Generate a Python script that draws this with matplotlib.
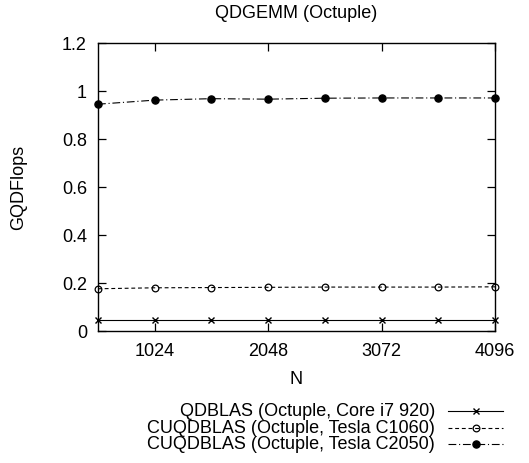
#!/usr/bin/env python
# QDGEMM octuple precision performance, gnuplot-like style

import matplotlib
matplotlib.use("Agg")
import matplotlib.pyplot as plt
from matplotlib.lines import Line2D

plt.rcParams['font.family'] = ['Liberation Sans', 'DejaVu Sans']

# data
n_sizes = [512, 1024, 1536, 2048, 2560, 3072, 3584, 4096]
core_i7 = [0.045, 0.045, 0.045, 0.045, 0.045, 0.045, 0.045, 0.045]
tesla_c1060 = [0.176, 0.180, 0.181, 0.182, 0.183, 0.183, 0.183, 0.184]
tesla_c2050 = [0.945, 0.962, 0.968, 0.966, 0.970, 0.971, 0.971, 0.971]
labels = ["QDBLAS (Octuple, Core i7 920)",
          "CUQDBLAS (Octuple, Tesla C1060)",
          "CUQDBLAS (Octuple, Tesla C2050)"]
xticks = [1024, 2048, 3072, 4096]
yticks = [0, 0.2, 0.4, 0.6, 0.8, 1.0, 1.2]
ytick_labels = ["0", "0.2", "0.4", "0.6", "0.8", "1", "1.2"]

W, H = 529, 464
FS = 13
fig = plt.figure(figsize=(W / 100, H / 100), dpi=100)
ax = fig.add_axes([98 / W, 1 - 332 / H, 397 / W, 288 / H])

styles = [
    dict(linestyle='-', marker='x', markersize=5, mfc='black', mew=1.0),
    dict(linestyle=(0, (3.5, 2.5)), marker='o', markersize=4.8,
         mfc='none', mew=0.9),
    dict(linestyle=(0, (7, 2.5, 1, 2.5)), marker='o', markersize=5.2,
         mfc='black', mew=0.9),
]
series = [core_i7, tesla_c1060, tesla_c2050]
for vals, st in zip(series, styles):
    ax.plot(n_sizes, vals, lw=0.8, color='black', clip_on=False, **st)

ax.set_xlim(512, 4096)
ax.set_ylim(0, 1.2)
ax.set_xticks(xticks)
ax.set_xticklabels([str(t) for t in xticks])
ax.set_yticks(yticks)
ax.set_yticklabels(ytick_labels)
ax.tick_params(direction='in', top=True, right=True, length=6, width=0.9,
               labelsize=FS)
ax.tick_params(axis='x', pad=8)
ax.tick_params(axis='y', pad=8)
for sp in ax.spines.values():
    sp.set_linewidth(1.0)

# title and axis labels placed like gnuplot does
fig.text(296 / W, 1 - 14 / H, "QDGEMM (Octuple)", ha='center', va='center',
         fontsize=FS)
fig.text(296 / W, 1 - 380 / H, "N", ha='center', va='center', fontsize=FS)
fig.text(18.5 / W, 1 - 187 / H, "GQDFlops", ha='center', va='center',
         rotation=90, fontsize=FS)

# legend below the plot, gnuplot style (text right-aligned, sample on right)
row_y = [412, 428.5, 445]
for lab, st, yp in zip(labels, styles, row_y):
    yf = 1 - yp / H
    fig.text(435 / W, yf, lab, ha='right', va='center', fontsize=FS)
    fig.add_artist(Line2D([448 / W, 503 / W], [yf, yf], lw=0.8,
                          color='black', linestyle=st['linestyle'],
                          transform=fig.transFigure))
    fig.add_artist(Line2D([475.5 / W], [yf], transform=fig.transFigure,
                          linestyle='none', color='black', marker=st['marker'],
                          markersize=st['markersize'], mfc=st['mfc'],
                          mew=st['mew']))

fig.savefig("out.png", dpi=100)
plt.close(fig)
